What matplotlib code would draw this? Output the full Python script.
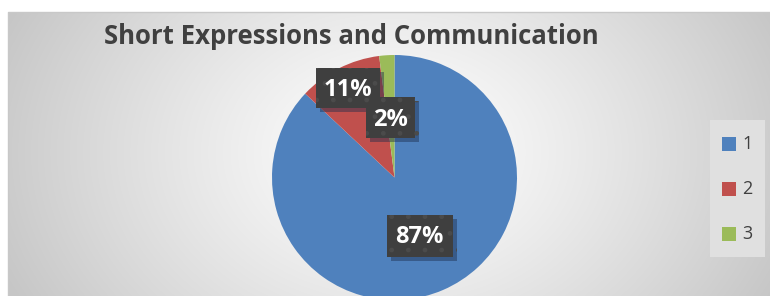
import numpy as np
import matplotlib
matplotlib.use('Agg')
import matplotlib.pyplot as plt
import matplotlib.patheffects as pe
from matplotlib.patches import Rectangle

# data
categories = ['1', '2', '3']
shares = [87, 11, 2]
labels = ['87%', '11%', '2%']
colors = ['#4f81bd', '#c0504d', '#9bbb59']
title = 'Short Expressions and Communication'

W, H = 770, 296
fig = plt.figure(figsize=(W / 100, H / 100), dpi=100)
fig.patch.set_facecolor('white')

# chart area with radial gradient (Excel style)
bg = fig.add_axes([8 / W, 0, (W - 8) / W, (H - 12) / H])
yy, xx = np.mgrid[0:284, 0:762]
cx, cy = 385, 140
r = np.sqrt(((xx - cx) / 1.0) ** 2 + ((yy - cy) / 0.75) ** 2)
g = 1.0 - 0.22 * np.clip(r / 420, 0, 1) ** 1.2
bg.imshow(np.dstack([g, g, g]), aspect='auto', extent=[0, 1, 0, 1])
bg.set_axis_off()
fig.add_artist(plt.Line2D([8 / W, 8 / W, 1], [0, (H - 12) / H, (H - 12) / H],
                          transform=fig.transFigure, color='#c8c8c8', lw=1))

fig.text(351 / W, 1 - 37 / H, title, ha='center', va='center',
         fontsize=18.5, fontweight='bold', color='#404040', family='Open Sans')

# pie
cxp, cyp, rad = 394.5, 177.5, 122.5
ax = fig.add_axes([(cxp - rad) / W, (H - cyp - rad) / H, 2 * rad / W, 2 * rad / H])
wedges, _ = ax.pie(shares, colors=colors, startangle=90, counterclock=False,
                   wedgeprops=dict(linewidth=0))
for w in wedges:
    w.set_clip_on(False)
ax.set_xlim(-1, 1)
ax.set_ylim(-1, 1)
ax.set_axis_off()

# data labels (dark boxes): box left, top, width, height in px; text centre
boxes = [(387, 215, 66, 42), (316, 68, 64, 40), (366, 97, 49, 41)]
text_pos = [(419, 237), (348, 90), (390, 120)]
for lab, (bx, by, bw, bh), (px, py) in zip(labels, boxes, text_pos):
    box = Rectangle((bx / W, 1 - (by + bh) / H), bw / W, bh / H,
                    transform=fig.transFigure, facecolor='#3f3f3f',
                    edgecolor='#4b4b4b', linewidth=0, hatch='.')
    box.set_path_effects([
        pe.SimplePatchShadow(offset=(3, -3), shadow_rgbFace='#1e2e4c', alpha=0.45),
        pe.Normal()])
    fig.add_artist(box)
    fig.text(px / W, 1 - py / H, lab, ha='center', va='center', fontsize=17,
             fontweight='bold', color='white', family='Open Sans')

# legend
fig.add_artist(Rectangle((710 / W, 1 - 257 / H), 55 / W, 137 / H,
                         transform=fig.transFigure, facecolor='#e0e0e0',
                         edgecolor='none'))
leg_y = [144, 189, 234]
for cat, col, ly in zip(categories, colors, leg_y):
    fig.add_artist(Rectangle((722 / W, 1 - (ly + 7) / H), 14 / W, 14 / H,
                             transform=fig.transFigure, facecolor=col,
                             edgecolor='none'))
    fig.text(742 / W, 1 - ly / H, cat, ha='left', va='center', fontsize=13,
             color='#404040', family='Open Sans')

fig.savefig('out.png', dpi=100)
